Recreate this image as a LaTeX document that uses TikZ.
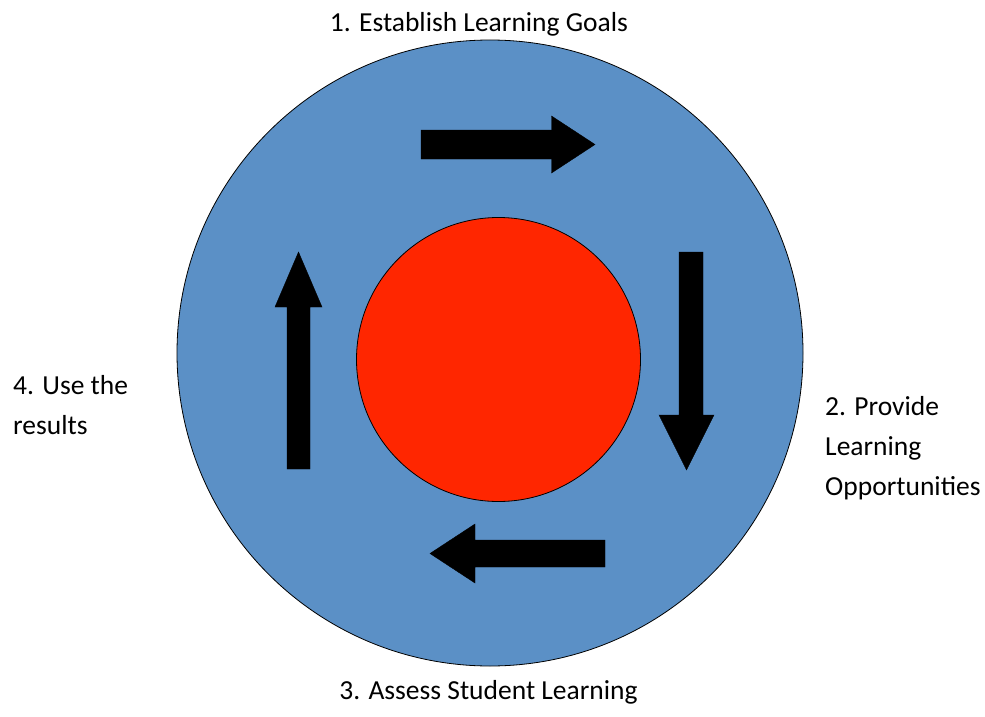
\documentclass[tikz,border=0pt]{standalone}
\usepackage{fontspec}
\setmainfont{Carlito}
\definecolor{ringblue}{RGB}{91,144,198}
\definecolor{corered}{RGB}{255,38,0}
\tikzset{
  disc/.style={circle, draw=black, line width=0.8pt, inner sep=0pt},
  flowarrow/.style={fill=black, draw=black, line width=0.4pt},
  steplabel/.style={font=\fontsize{27.5}{40}\selectfont, inner sep=0pt, align=left}
}
\begin{document}
\begin{tikzpicture}[x=1pt, y=-1pt]
  \useasboundingbox (0,0) rectangle (985,717);
  % outer ring and core
  \node[disc, fill=ringblue, minimum size=626pt] (outer) at (490,353) {};
  \node[disc, fill=corered, minimum size=284pt] (core) at (498.5,359.5) {};
  % block arrows, clockwise
  \draw[flowarrow] (421,130) -- (551.5,130) -- (551.5,116) -- (595,144.5)
        -- (551.5,173) -- (551.5,159) -- (421,159) -- cycle;
  \draw[flowarrow] (679,252) -- (703,252) -- (703,415) -- (714,415) -- (686.5,470)
        -- (659,415) -- (679,415) -- cycle;
  \draw[flowarrow] (605,540) -- (605,567) -- (475,567) -- (475,583) -- (430,553.5)
        -- (475,524) -- (475,540) -- cycle;
  \draw[flowarrow] (287,469) -- (310,469) -- (310,307) -- (322,307) -- (298.5,252)
        -- (275,307) -- (287,307) -- cycle;
  % step labels (base anchor sits on the last line)
  \node[steplabel, anchor=base] (s1) at (479,32) {1. Establish Learning Goals};
  \node[steplabel, anchor=base west] (s2) at (825,495) {2. Provide\\Learning\\Opportunities};
  \node[steplabel, anchor=base] (s3) at (488.5,699) {3. Assess Student Learning};
  \node[steplabel, anchor=base west] (s4) at (13,434) {4. Use the\\results};
\end{tikzpicture}
\end{document}
